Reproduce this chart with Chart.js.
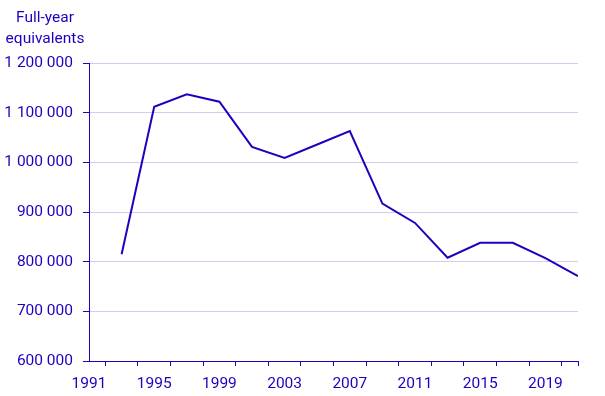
<!DOCTYPE html>
<html>
<head>
<meta charset="utf-8">
<script src="https://cdn.jsdelivr.net/npm/chart.js@4"></script>
<style>
  html, body { margin: 0; padding: 0; background: #fff; }
  #wrap { position: relative; width: 605px; height: 396px; }
</style>
</head>
<body>
<div id="wrap"><canvas id="chart"></canvas></div>
<script>
const years = [1993, 1995, 1997, 1999, 2001, 2003, 2005, 2007, 2009, 2011, 2013, 2015, 2017, 2019, 2021];
const fullYearEquivalents = [815000, 1112000, 1137000, 1122000, 1031000, 1009000, 1036000, 1063000, 917000, 878000, 808000, 838000, 838000, 807000, 771000];
const axisTitle = ["Full-year", "equivalents"];
const yTicks = [600000, 700000, 800000, 900000, 1000000, 1100000, 1200000];

const blue = "#1e00be";
const gridColor = "#cfcdf3";
const font = { family: "Roboto", size: 15.5 };

// draws the unit text above the y axis
const unitTitle = {
    id: "unitTitle",
    afterDraw(chart) {
        const ctx = chart.ctx;
        ctx.save();
        ctx.fillStyle = blue;
        ctx.font = "15.5px Roboto";
        ctx.textAlign = "center";
        ctx.textBaseline = "alphabetic";
        ctx.fillText(axisTitle[0], 45, 22);
        ctx.fillText(axisTitle[1], 45, 43);
        ctx.restore();
    }
};

new Chart(document.getElementById("chart"), {
    type: "line",
    data: {
        datasets: [{
            data: years.map((y, i) => ({ x: y, y: fullYearEquivalents[i] })),
            borderColor: blue,
            borderWidth: 2,
            pointRadius: 0,
            tension: 0,
            fill: false
        }]
    },
    options: {
        responsive: true,
        maintainAspectRatio: false,
        animation: false,
        layout: { padding: { top: 63, left: 2, right: 27, bottom: 0 } },
        plugins: {
            legend: { display: false },
            tooltip: { enabled: false }
        },
        scales: {
            x: {
                type: "linear",
                min: 1991,
                max: 2021,
                afterBuildTicks(scale) {
                    const t = [];
                    for (let v = 1991; v <= 2021; v++) t.push({ value: v });
                    scale.ticks = t;
                },
                afterFit(scale) { scale.height = 35; },
                border: { color: blue, width: 1 },
                grid: {
                    drawOnChartArea: false,
                    tickLength: 5,
                    tickWidth: 1,
                    tickColor: c => (c.tick && (c.tick.value % 2 === 0 || c.tick.value === 2021)) ? blue : "rgba(0,0,0,0)"
                },
                ticks: {
                    autoSkip: false,
                    maxRotation: 0,
                    padding: 9,
                    color: blue,
                    font: font,
                    callback: v => ((v - 1991) % 4 === 0 && v < 2021) ? String(v) : ""
                }
            },
            y: {
                min: 600000,
                max: 1200000,
                afterBuildTicks(scale) {
                    scale.ticks = yTicks.map(v => ({ value: v }));
                },
                afterFit(scale) { scale.width = 87; },
                border: { color: blue, width: 1 },
                grid: {
                    color: gridColor,
                    tickColor: blue,
                    tickLength: 6,
                    lineWidth: 1
                },
                ticks: {
                    padding: 10,
                    color: blue,
                    font: font,
                    callback: v => String(v).replace(/\B(?=(\d{3})+(?!\d))/g, " ")
                }
            }
        }
    },
    plugins: [unitTitle]
});
</script>
</body>
</html>
